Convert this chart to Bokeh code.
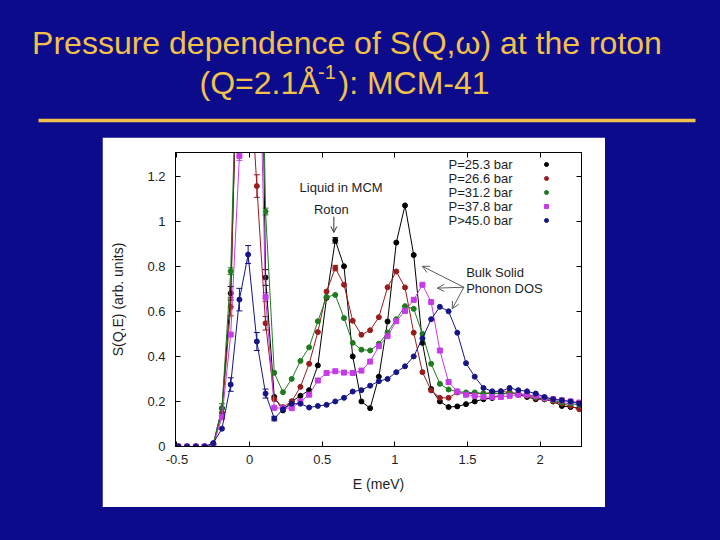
from bokeh.plotting import figure
from bokeh.layouts import column, row
from bokeh.models import (Range1d, LinearAxis, FixedTicker, Label, Legend, LegendItem,
                          Arrow, OpenHead, Whisker, TeeHead, ColumnDataSource)
from bokeh.embed import file_html
from bokeh.resources import INLINE

BG = "#0b0b8c"
GOLD = "#f2c14a"
FONT = "Liberation Sans"
INK = "#1e1e1e"

# ---------------- data ----------------
E = [-0.49, -0.43, -0.37, -0.31, -0.25, -0.19, -0.13, -0.07, -0.01, 0.05,
     0.11, 0.17, 0.23, 0.29, 0.35, 0.41, 0.47, 0.53, 0.59, 0.65,
     0.71, 0.77, 0.83, 0.89, 0.95, 1.01, 1.07, 1.13, 1.19, 1.25,
     1.31, 1.37, 1.43, 1.49, 1.55, 1.61, 1.67, 1.73, 1.79, 1.85,
     1.91, 1.97, 2.03, 2.09, 2.15, 2.21, 2.27]

s253 = [0.0, 0.0, 0.0, 0.0, 0.01, 0.17, 0.68, 2.1, 4.0, 3.5,
        0.75, 0.22, 0.16, 0.20, 0.225, 0.25, 0.36, 0.66, 0.915, 0.80,
        0.40, 0.20, 0.17, 0.31, 0.555, 0.905, 1.07, 0.85, 0.46, 0.255,
        0.20, 0.175, 0.178, 0.188, 0.20, 0.21, 0.215, 0.23, 0.24, 0.23,
        0.22, 0.21, 0.21, 0.20, 0.18, 0.175, 0.17]

s266 = [0.0, 0.0, 0.0, 0.0, 0.01, 0.15, 0.62, 2.2, 1.8, 1.156,
        0.547, 0.21, 0.175, 0.20, 0.265, 0.367, 0.508, 0.688, 0.792, 0.718,
        0.558, 0.496, 0.516, 0.574, 0.707, 0.777, 0.706, 0.505, 0.33, 0.249,
        0.216, 0.216, 0.24, 0.235, 0.235, 0.235, 0.24, 0.245, 0.24, 0.235,
        0.225, 0.215, 0.21, 0.20, 0.19, 0.18, 0.165]

s312 = [0.0, 0.0, 0.0, 0.0, 0.01, 0.17, 0.778, 2.2, 4.0, 3.2,
        1.043, 0.327, 0.241, 0.30, 0.38, 0.44, 0.556, 0.664, 0.673, 0.57,
        0.46, 0.43, 0.426, 0.456, 0.506, 0.565, 0.623, 0.611, 0.50, 0.367,
        0.278, 0.253, 0.244, 0.24, 0.24, 0.235, 0.235, 0.235, 0.235, 0.235,
        0.23, 0.22, 0.21, 0.205, 0.195, 0.19, 0.185]

s378 = [0.0, 0.0, 0.0, 0.0, 0.005, 0.13, 0.497, 1.29, 3.0, 2.3,
        0.663, 0.172, 0.17, 0.17, 0.20, 0.23, 0.293, 0.326, 0.334, 0.328,
        0.326, 0.337, 0.377, 0.445, 0.49, 0.556, 0.602, 0.651, 0.718, 0.641,
        0.426, 0.286, 0.244, 0.23, 0.225, 0.22, 0.22, 0.22, 0.225, 0.23,
        0.23, 0.225, 0.215, 0.21, 0.205, 0.20, 0.195]

s450 = [0.0, 0.0, 0.0, 0.0, 0.015, 0.079, 0.275, 0.652, 0.852, 0.466,
        0.235, 0.124, 0.165, 0.19, 0.19, 0.173, 0.18, 0.185, 0.20, 0.216,
        0.244, 0.25, 0.27, 0.29, 0.30, 0.33, 0.356, 0.40, 0.48, 0.565,
        0.62, 0.60, 0.505, 0.37, 0.31, 0.26, 0.245, 0.245, 0.26, 0.25,
        0.245, 0.235, 0.22, 0.21, 0.205, 0.20, 0.19]

# error bars (energy, half-width)
errE_253 = [-0.13, 0.11, 0.59]
err_253 = [0.03, 0.035, 0.012]
errE_266 = [-0.13, 0.05, 0.11, 0.59]
err_266 = [0.04, 0.05, 0.03, 0.012]
errE_312 = [-0.19, -0.13, 0.11]
err_312 = [0.02, 0.015, 0.015]
errE_378 = [-0.07, 0.11]
err_378 = [0.02, 0.02]
errE_450 = [-0.13, -0.07, -0.01, 0.05, 0.11, 0.17]
err_450 = [0.03, 0.05, 0.04, 0.04, 0.02, 0.01]

series_names = ["P=25.3 bar", "P=26.6 bar", "P=31.2 bar", "P=37.8 bar", "P>45.0 bar"]
series_values = [s253, s266, s312, s378, s450]
series_errE = [errE_253, errE_266, errE_312, errE_378, errE_450]
series_err = [err_253, err_266, err_312, err_378, err_450]
series_colors = ["#000000", "#9a1c1c", "#1e7b1e", "#c43ce6", "#151585"]
series_markers = ["circle", "circle", "circle", "square", "circle"]

x_ticks = [-0.5, 0, 0.5, 1, 1.5, 2]
x_tick_labels = ["-0.5", "0", "0.5", "1", "1.5", "2"]
y_ticks = [0, 0.2, 0.4, 0.6, 0.8, 1.0, 1.2]
y_tick_labels = ["0", "0.2", "0.4", "0.6", "0.8", "1", "1.2"]

TITLE1 = "Pressure dependence of S(Q,\u03c9) at the roton"
TITLE2A = "(Q=2.1\u00c5"
TITLE2SUP = "-1"
TITLE2B = "): MCM-41"


def blank(w, h):
    f = figure(width=w, height=h, toolbar_location=None, output_backend="svg",
               x_axis_location=None, y_axis_location=None, min_border=0,
               outline_line_color=None, background_fill_color=BG, border_fill_color=BG,
               x_range=Range1d(0, w), y_range=Range1d(0, h))
    f.grid.visible = False
    return f


# ---------------- title band ----------------
top = blank(720, 137)
top.add_layout(Label(x=346.5, y=95, text=TITLE1, text_align="center", text_baseline="alphabetic",
                     text_font=FONT, text_font_size="32px", text_color=GOLD))
top.add_layout(Label(x=199, y=55, text=TITLE2A, text_align="left", text_baseline="alphabetic",
                     text_font=FONT, text_font_size="32px", text_color=GOLD))
top.add_layout(Label(x=317.5, y=66, text=TITLE2SUP, text_align="left", text_baseline="alphabetic",
                     text_font=FONT, text_font_size="20px", text_color=GOLD))
top.add_layout(Label(x=338, y=55, text=TITLE2B, text_align="left", text_baseline="alphabetic",
                     text_font=FONT, text_font_size="32px", text_color=GOLD))
top.segment(x0=[38], y0=[17], x1=[695], y1=[17], line_width=3.5, line_color=GOLD)

# ---------------- main chart ----------------
p = figure(width=503, height=370, x_range=Range1d(-0.51, 2.285), y_range=Range1d(0, 1.305),
           toolbar_location=None, output_backend="svg",
           min_border_left=73, min_border_right=24, min_border_top=15, min_border_bottom=61,
           background_fill_color="white", border_fill_color="white",
           outline_line_color="black", outline_line_width=1)
p.grid.visible = False

xt = FixedTicker(ticks=x_ticks)
yt = FixedTicker(ticks=y_ticks)


def style_axis(ax, ticker, labels, ticks, show):
    ax.ticker = ticker
    ax.major_label_overrides = {t: (l if show else "") for t, l in zip(ticks, labels)}
    ax.major_tick_in = 5
    ax.major_tick_out = 0
    ax.minor_tick_in = 0
    ax.minor_tick_out = 0
    ax.axis_line_color = "black"
    ax.major_tick_line_color = "black"
    ax.major_label_text_font = FONT
    ax.major_label_text_font_size = "13px"
    ax.major_label_text_color = INK
    ax.axis_label_text_font = FONT
    ax.axis_label_text_font_size = "14px"
    ax.axis_label_text_font_style = "normal"
    ax.axis_label_text_color = INK


style_axis(p.xaxis[0], xt, x_tick_labels, x_ticks, True)
style_axis(p.yaxis[0], yt, y_tick_labels, y_ticks, True)
p.xaxis[0].axis_label = "E (meV)"
p.xaxis[0].major_label_standoff = 8
p.xaxis[0].axis_label_standoff = 9
p.yaxis[0].axis_label = "S(Q,E) (arb. units)"
p.yaxis[0].major_label_standoff = 10
p.yaxis[0].axis_label_standoff = 18

ax_top = LinearAxis()
style_axis(ax_top, xt, x_tick_labels, x_ticks, False)
p.add_layout(ax_top, "above")
ax_right = LinearAxis()
style_axis(ax_right, yt, y_tick_labels, y_ticks, False)
p.add_layout(ax_right, "right")

legend_items = []
for name, vals, errE, err, color, marker in zip(series_names, series_values, series_errE,
                                               series_err, series_colors, series_markers):
    src = ColumnDataSource(dict(x=E, y=vals))
    p.line("x", "y", source=src, line_color=color, line_width=1)
    r = p.scatter("x", "y", source=src, marker=marker, size=5, fill_color=color, line_color=color)
    ey = [vals[E.index(e)] for e in errE]
    esrc = ColumnDataSource(dict(x=errE, lo=[v - d for v, d in zip(ey, err)],
                                 hi=[v + d for v, d in zip(ey, err)]))
    p.add_layout(Whisker(base="x", lower="lo", upper="hi", source=esrc, line_color=color,
                         line_width=1,
                         lower_head=TeeHead(size=6, line_color=color, line_width=1),
                         upper_head=TeeHead(size=6, line_color=color, line_width=1)))
    legend_items.append(LegendItem(label=" ", renderers=[r]))

legend = Legend(items=legend_items, location=(366, 219), orientation="vertical",
                glyph_width=10, glyph_height=14, label_width=0, label_height=14,
                label_standoff=0, padding=0, spacing=0, margin=0,
                border_line_color=None, background_fill_alpha=0,
                label_text_font_size="8px")
p.add_layout(legend)

legend_y = [1.250, 1.188, 1.126, 1.065, 1.003]
for name, ly in zip(series_names, legend_y):
    p.add_layout(Label(x=1.37, y=ly, text=name, text_baseline="middle", text_align="left",
                       text_font=FONT, text_font_size="13px", text_color=INK))

for txt, lx, ly in [("Liquid in MCM", 0.344, 1.151), ("Roton", 0.443, 1.052),
                    ("Bulk Solid", 1.491, 0.774), ("Phonon DOS", 1.491, 0.703)]:
    p.add_layout(Label(x=lx, y=ly, text=txt, text_baseline="middle", text_align="left",
                       text_font=FONT, text_font_size="13px", text_color=INK))

p.add_layout(Arrow(x_start=0.58, y_start=1.02, x_end=0.58, y_end=0.95, line_color="#333333",
                   line_width=1, end=OpenHead(size=6, line_color="#333333", line_width=1)))
for xe, ye in [(1.189, 0.80), (1.292, 0.703), (1.395, 0.611)]:
    p.add_layout(Arrow(x_start=1.475, y_start=0.707, x_end=xe, y_end=ye, line_color="#333333",
                       line_width=0.8, end=OpenHead(size=7, line_color="#333333", line_width=0.8)))

left = blank(102, 370)
right = blank(115, 370)
bottom = blank(720, 33)

mid = row(left, p, right, styles={"background-color": BG})
layout = column(top, mid, bottom, styles={"background-color": BG})

open("out.html", "w").write(file_html(layout, INLINE))
